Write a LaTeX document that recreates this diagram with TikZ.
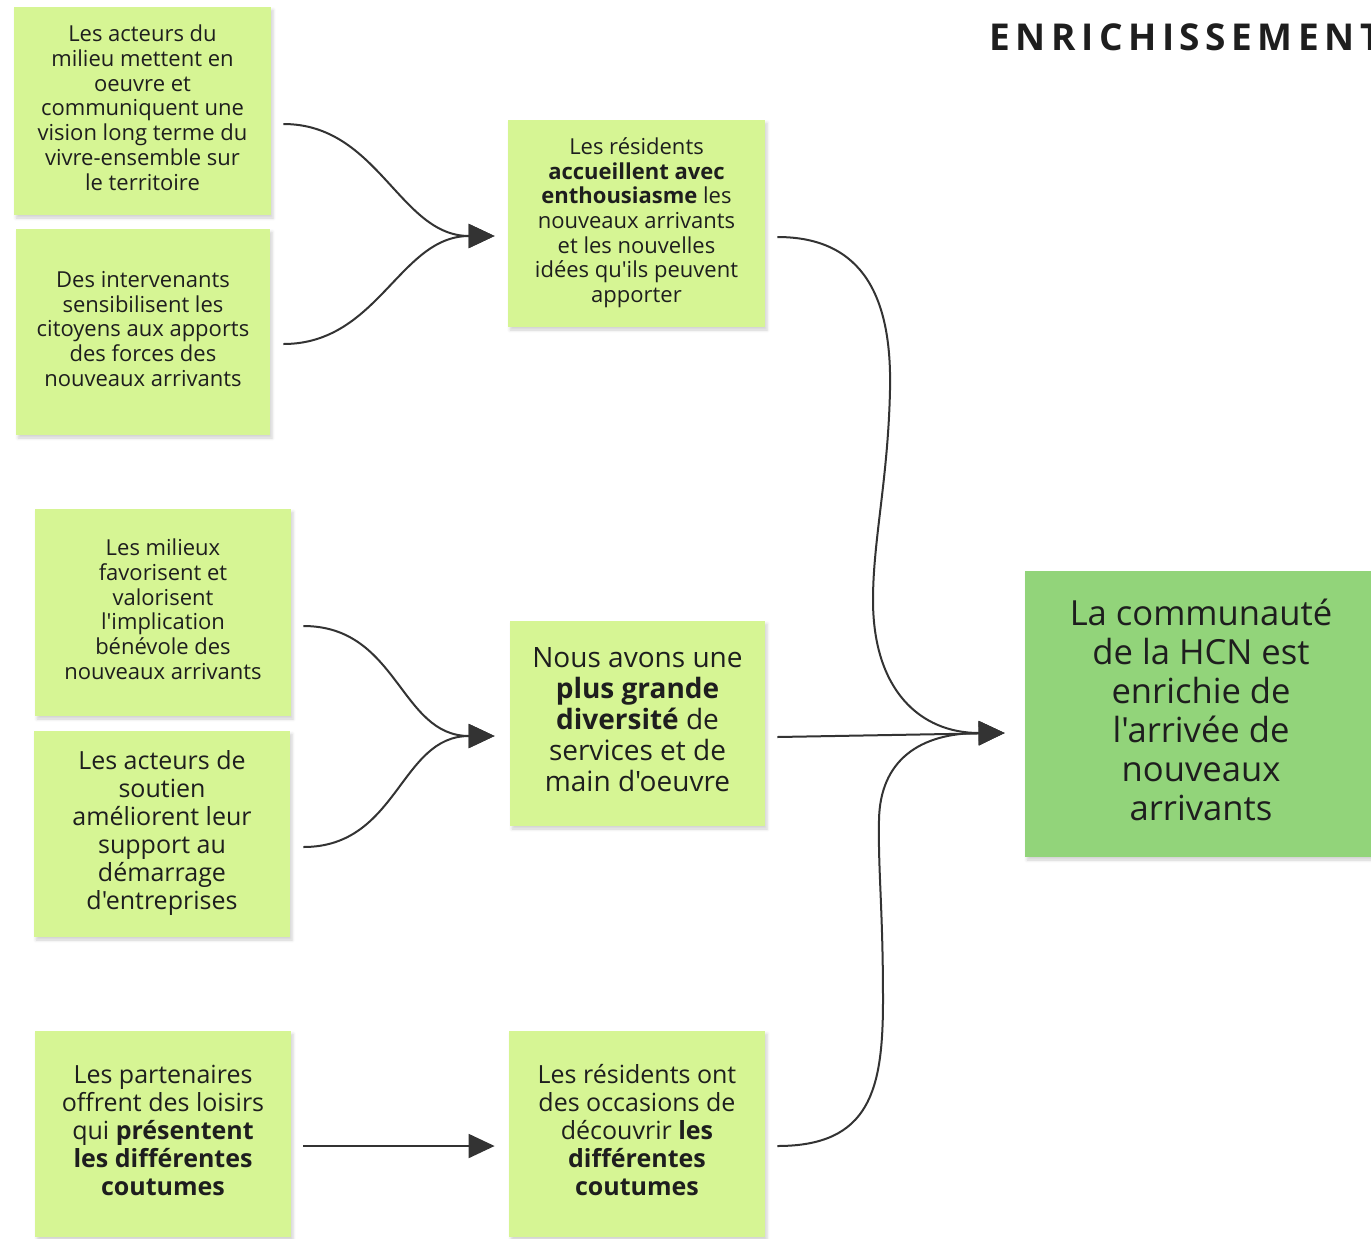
\documentclass[tikz,border=0pt]{standalone}
\usepackage{fontspec}
\setmainfont[Ligatures=TeXOff]{Open Sans}
\newfontfamily\titlefont[LetterSpace=15]{Open Sans}
\usetikzlibrary{arrows.meta,calc,shadows.blur}
\definecolor{boxgreen}{HTML}{D6F594}
\definecolor{biggreen}{HTML}{92D47A}
\definecolor{linegray}{HTML}{333333}
\definecolor{txt}{HTML}{1E1E1E}
\newcommand\notetext[2][0pt]{\raisebox{#1}[\height][\depth]{\begin{tabular}{@{}c@{}}#2\end{tabular}}}
\begin{document}
\begin{tikzpicture}[x=0.5pt,y=-0.5pt,
  note/.style={rectangle, fill=boxgreen, inner sep=0pt, text=txt,
    blur shadow={shadow xshift=1pt, shadow yshift=-1.5pt, shadow opacity=18, shadow blur steps=4, shadow blur radius=1.5pt}},
  sm/.style={font=\fontsize{11}{12.35}\selectfont},
  md/.style={font=\fontsize{12.5}{14}\selectfont},
  lg/.style={font=\fontsize{14}{15.5}\selectfont},
  xl/.style={font=\fontsize{17.3}{19.5}\selectfont},
  conn/.style={draw=linegray, line width=1pt, -{Triangle[length=13pt,width=12pt]}},
]
\useasboundingbox (0,0) rectangle (1371,1238);
\clip (0,0) rectangle (1371,1238);

% title
\node[anchor=base west, inner sep=0pt, text=txt, font=\titlefont\bfseries\fontsize{18.5}{22}\selectfont] (title) at (989,50) {ENRICHISSEMENT};

% left column
\node[note, sm, minimum width=128.5pt, minimum height=104pt] (A) at (142.5,111)
  {\notetext{Les acteurs du\\milieu mettent en\\oeuvre et\\communiquent une\\vision long terme du\\vivre-ensemble sur\\le territoire}};
\node[note, sm, minimum width=127pt, minimum height=103pt] (B) at (143,332)
  {\notetext{Des intervenants\\sensibilisent les\\citoyens aux apports\\des forces des\\nouveaux arrivants}};
\node[note, sm, minimum width=128pt, minimum height=103.5pt] (D) at (163,612.5)
  {\notetext{Les milieux\\favorisent et\\valorisent\\l'implication\\bénévole des\\nouveaux arrivants}};
\node[note, md, minimum width=128pt, minimum height=103pt] (E) at (162,834)
  {\notetext{Les acteurs de\\soutien\\améliorent leur\\support au\\démarrage\\d'entreprises}};
\node[note, md, minimum width=128pt, minimum height=103pt] (G) at (163,1134)
  {\notetext{Les partenaires\\offrent des loisirs\\qui \textbf{présentent}\\\textbf{les différentes}\\\textbf{coutumes}}};

% middle column
\node[note, sm, minimum width=128.5pt, minimum height=103.5pt] (C) at (636.5,223.5)
  {\notetext{Les résidents\\\textbf{accueillent avec}\\\textbf{enthousiasme} les\\nouveaux arrivants\\et les nouvelles\\idées qu'ils peuvent\\apporter}};
\node[note, lg, minimum width=127.5pt, minimum height=102.5pt] (F) at (637.5,723.5)
  {\notetext{Nous avons une\\\textbf{plus grande}\\\textbf{diversité} de\\services et de\\main d'oeuvre}};
\node[note, md, minimum width=128pt, minimum height=103pt] (H) at (637,1134)
  {\notetext{Les résidents ont\\des occasions de\\découvrir \textbf{les}\\\textbf{différentes}\\\textbf{coutumes}}};

% outcome
\node[note, xl, fill=biggreen, minimum width=176pt, minimum height=143pt] (Z) at (1201,714)
  {\notetext[-0.5pt]{La communauté\\de la HCN est\\enrichie de\\l'arrivée de\\nouveaux\\arrivants}};

% connector end points
\coordinate (a1) at ($(A.east)+(12,13)$);
\coordinate (b1) at ($(B.east)+(13,12)$);
\coordinate (c0) at ($(C.west)+(-13,12.5)$);
\coordinate (d1) at ($(D.east)+(12,13.5)$);
\coordinate (e1) at ($(E.east)+(13,13)$);
\coordinate (f0) at ($(F.west)+(-15,12.5)$);
\coordinate (g1) at ($(G.east)+(12,12)$);
\coordinate (h0) at ($(H.west)+(-14,12)$);
\coordinate (c1) at ($(C.east)+(12,13.5)$);
\coordinate (f1) at ($(F.east)+(12,13.5)$);
\coordinate (h1) at ($(H.east)+(12,12)$);
\coordinate (z0) at ($(Z.west)+(-20,19)$);
% waypoints
\coordinate (u1) at (890,390);
\coordinate (u2) at (873,600);
\coordinate (l1) at (883,1000);
\coordinate (l2) at (879,820);

\draw[conn] (a1) .. controls +(95,0) and +(-95,0) .. (c0);
\draw[conn] (b1) .. controls +(95,0) and +(-95,0) .. (c0);
\draw[conn] (d1) .. controls +(95,0) and +(-95,0) .. (f0);
\draw[conn] (e1) .. controls +(95,0) and +(-95,0) .. (f0);
\draw[conn] (g1) -- (h0);

\draw[conn] (c1) .. controls (865,237) and (892,300) .. (u1)
  .. controls (888,480) and (873,540) .. (u2)
  .. controls (873,690) and (920,733) .. (z0);
\draw[conn] (f1) -- (z0);
\draw[conn] (h1) .. controls (870,1146) and (883,1090) .. (l1)
  .. controls (883,910) and (878,870) .. (l2)
  .. controls (880,760) and (920,733) .. (z0);
\end{tikzpicture}
\end{document}
